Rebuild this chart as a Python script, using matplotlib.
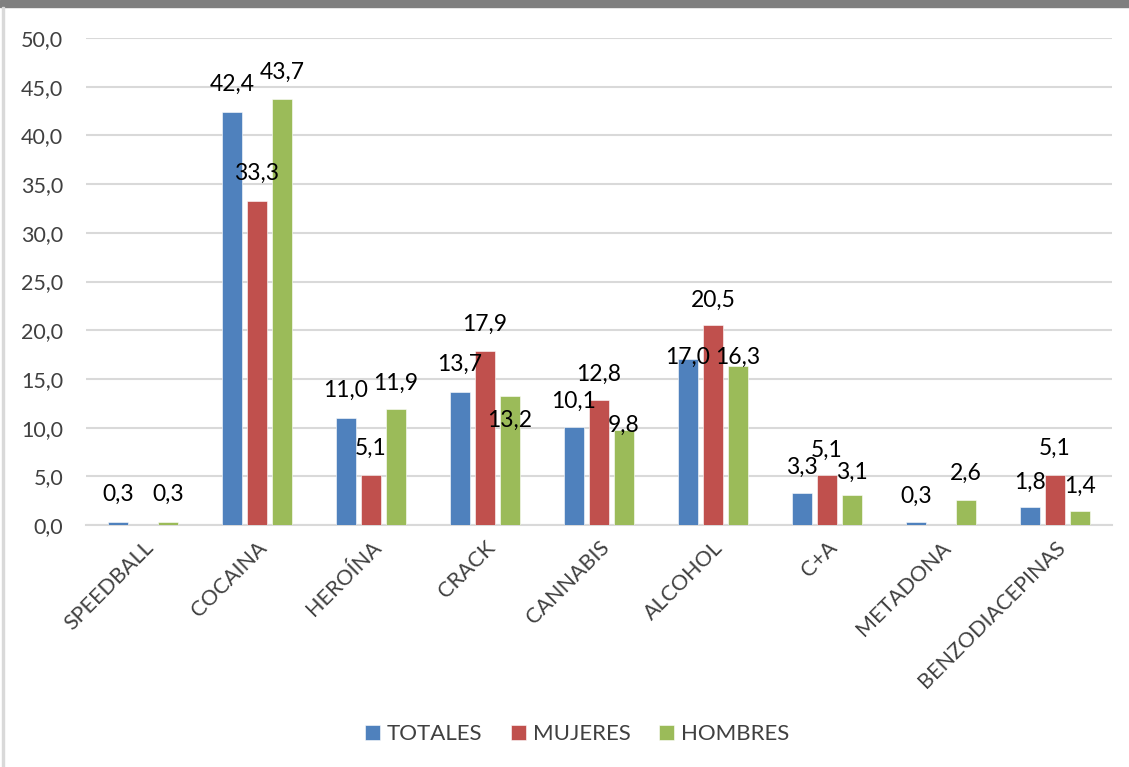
import matplotlib.pyplot as plt
import matplotlib.patches as mpatches
import numpy as np

plt.rcParams["font.family"] = ["Lato", "DejaVu Sans"]

categorias = ["SPEEDBALL", "COCAINA", "HEROÍNA", "CRACK", "CANNABIS",
              "ALCOHOL", "C+A", "METADONA", "BENZODIACEPINAS"]
series = ["TOTALES", "MUJERES", "HOMBRES"]
totales = [0.3, 42.4, 11.0, 13.7, 10.1, 17.0, 3.3, 0.3, 1.8]
mujeres = [np.nan, 33.3, 5.1, 17.9, 12.8, 20.5, 5.1, np.nan, 5.1]
hombres = [0.3, 43.7, 11.9, 13.2, 9.8, 16.3, 3.1, 2.6, 1.4]
colores = ["#4f81bd", "#c0504d", "#9bbb59"]

# vertical shift of each data label (data units), as Excel placed them
label_dy = [
    [2.8, 2.8, 2.8, 2.8, 2.6, 0.2, 2.6, 2.6, 2.6],
    [2.8, 2.8, 2.8, 2.7, 2.7, 2.6, 2.6, 2.8, 2.8],
    [2.8, 2.8, 2.6, -2.5, 0.4, 0.9, 2.35, 2.7, 2.6],
]

fig = plt.figure(figsize=(11.29, 7.67), dpi=100)
ax = fig.add_axes([86 / 1129, 1 - 525 / 767, (1112 - 86) / 1129, (525 - 38) / 767])

# frame: grey top band and light left border
fig.patches.append(mpatches.Rectangle((0, 1 - 7 / 767), 1, 7 / 767, transform=fig.transFigure,
                                      color="#7f7f7f", zorder=0))
fig.patches.append(mpatches.Rectangle((2 / 1129, 0), 2 / 1129, 1 - 7 / 767, transform=fig.transFigure,
                                      color="#d9d9d9", zorder=0))

x = np.arange(len(categorias))
ancho = 0.175
paso = 0.22
valores = [totales, mujeres, hombres]
for i, (nombre, vals, col) in enumerate(zip(series, valores, colores)):
    pos = x + (i - 1) * paso
    ax.bar(pos, vals, width=ancho, color=col, label=nombre, zorder=3,
           edgecolor="white", linewidth=0.4)
    for j, v in enumerate(vals):
        if np.isnan(v):
            continue
        ax.text(pos[j], v + label_dy[i][j], f"{v:.1f}".replace(".", ","),
                ha="center", va="center", fontsize=16.5, color="black", zorder=4)

ax.set_xlim(-0.5, len(categorias) - 0.5)
ax.set_ylim(0, 50)
ax.set_yticks(np.arange(0, 51, 5))
ax.set_yticklabels([f"{t:.1f}".replace(".", ",") for t in np.arange(0, 51, 5)],
                   fontsize=15.5, color="#404040")
ax.set_xticks(x)
ax.set_xticklabels(categorias, rotation=45, ha="right", rotation_mode="anchor",
                   fontsize=15.5, color="#404040")
ax.tick_params(axis="both", length=0)
ax.tick_params(axis="y", pad=16.5)
ax.tick_params(axis="x", pad=9)
ax.grid(axis="y", color="#d9d9d9", linewidth=1.5, zorder=0)
for s in ["top", "right", "left"]:
    ax.spines[s].set_visible(False)
ax.spines["bottom"].set_color("#d9d9d9")
ax.spines["bottom"].set_linewidth(1.5)

ax.legend(loc="center", bbox_to_anchor=(577 / 1129, 1 - 734 / 767), bbox_transform=fig.transFigure,
          ncol=3, frameon=False, fontsize=16, handlelength=0.68, handleheight=0.68,
          handletextpad=0.3, columnspacing=1.3, labelcolor="#404040")

fig.savefig("out.png", dpi=100)
